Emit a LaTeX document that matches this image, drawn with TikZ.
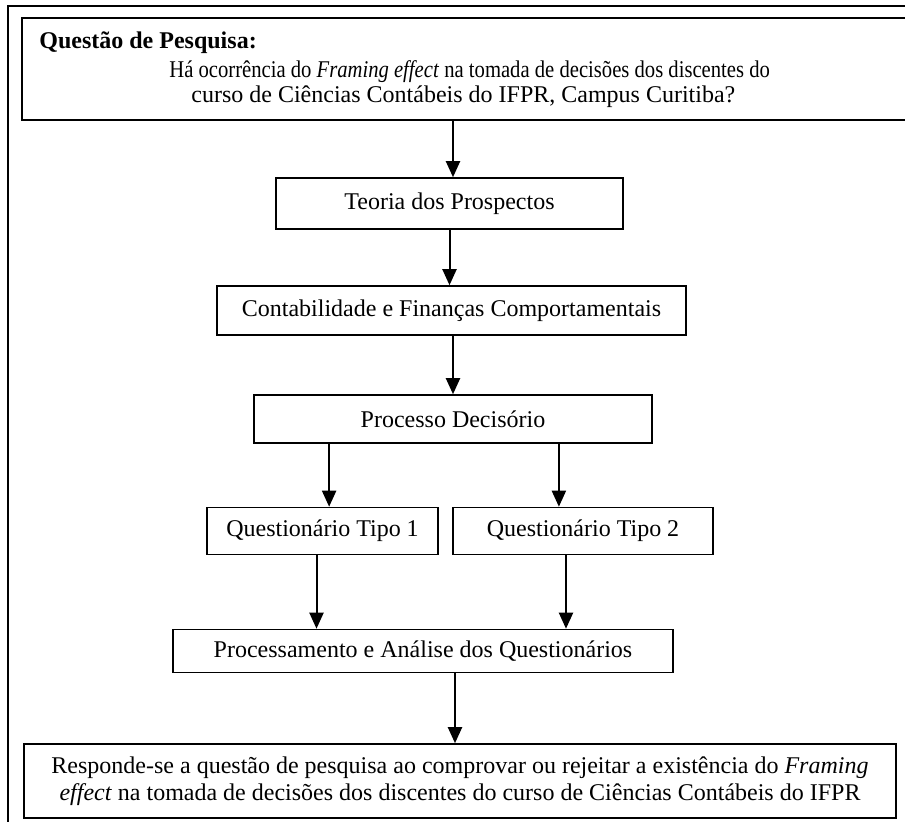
\documentclass[tikz,border=0pt]{standalone}
\usepackage{fontspec}
\usepackage{graphicx}
\setmainfont{Liberation Serif}
\usetikzlibrary{arrows.meta,calc}

\begin{document}
\begin{tikzpicture}[x=0.5pt, y=-0.5pt, font=\fontsize{12}{13.8}\selectfont,
    stage/.style={draw, line width=0.8pt, inner sep=0pt},
    flow/.style={-{Triangle[length=8pt,width=7pt]}, line width=1pt}]
  \useasboundingbox (0,0) rectangle (905,821);
  \clip (0,0) rectangle (905,821);
  \draw[line width=0.6pt] (8,6) rectangle (940,850);
  % pergunta de pesquisa
  \node[stage, line width=1pt, anchor=north west, minimum width=450pt, minimum height=51pt] (pergunta) at (21,17) {};
  \node[anchor=base west, inner sep=0pt, font=\fontsize{12}{13.8}\selectfont\bfseries] (titulo) at (39,48) {Questão de Pesquisa:};
  \node[anchor=base west, inner sep=0pt] (linhaA) at (169,77) {\scalebox{0.86}[1]{Há ocorrência do \textit{Framing effect} na tomada de decisões dos discentes do}};
  \node[anchor=base west, inner sep=0pt] (linhaB) at (191,102) {curso de Ciências Contábeis do IFPR, Campus Curitiba?};
  % etapas
  \node[stage, minimum width=173.5pt, minimum height=25.5pt] (teoria) at (449.5,203.5) {Teoria dos Prospectos};
  \node[stage, minimum width=234.5pt, minimum height=24.5pt] (financas) at (451.5,310.5) {Contabilidade e Finanças Comportamentais};
  \node[stage, minimum width=199pt, minimum height=24pt] (decisao) at (453,419) {Processo Decisório};
  \node[stage, minimum width=115.5pt, minimum height=23.5pt] (quest1) at (322.5,531) {Questionário Tipo 1};
  \node[stage, minimum width=130pt, minimum height=23.5pt] (quest2) at (583,531) {Questionário Tipo 2};
  \node[stage, minimum width=250pt, minimum height=21.5pt] (analise) at (423,651) {Processamento e Análise dos Questionários};
  \node[stage, minimum width=436pt, minimum height=37pt, align=center] (resposta) at (460,781)
    {Responde-se a questão de pesquisa ao comprovar ou rejeitar a existência do \textit{Framing}\\
     \textit{effect} na tomada de decisões dos discentes do curso de Ciências Contábeis do IFPR};
  % setas
  \coordinate (d1) at ($(decisao.south west)!0.19!(decisao.south east)$);
  \coordinate (d2) at ($(decisao.south west)!0.765!(decisao.south east)$);
  \draw[flow] ([xshift=1.75pt]teoria.north |- pergunta.south) -- ([xshift=1.75pt]teoria.north);
  \draw[flow] (teoria.south) -- (teoria.south |- financas.north);
  \draw[flow] (decisao.north |- financas.south) -- (decisao.north);
  \draw[flow] (d1) -- (d1 |- quest1.north);
  \draw[flow] (d2) -- (d2 |- quest2.north);
  \draw[flow] ([xshift=-3pt]quest1.south) -- ([xshift=-3pt]quest1.south |- analise.north);
  \draw[flow] ([xshift=-8.5pt]quest2.south) -- ([xshift=-8.5pt]quest2.south |- analise.north);
  \draw[flow] ([xshift=-2.5pt]resposta.north |- analise.south) -- ([xshift=-2.5pt]resposta.north);
\end{tikzpicture}
\end{document}
